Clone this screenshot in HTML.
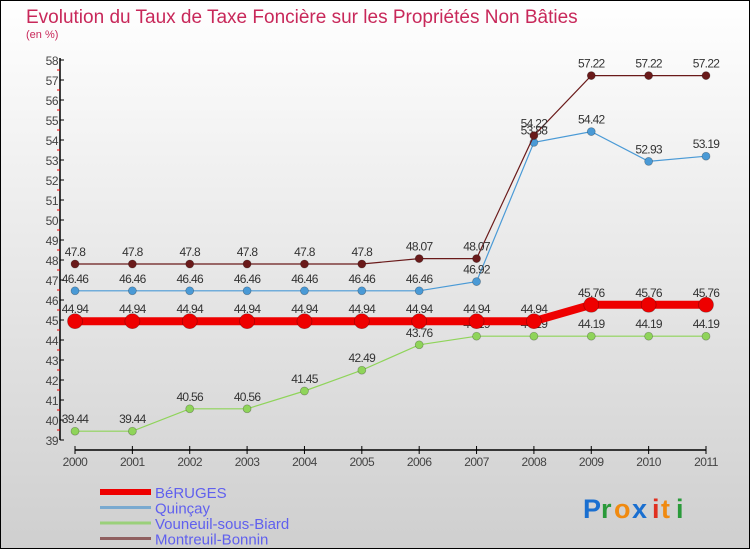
<!DOCTYPE html>
<html><head><meta charset="utf-8"><style>
html,body{margin:0;padding:0}
body{width:750px;height:550px;overflow:hidden;font-family:"Liberation Sans",sans-serif}
</style></head><body>
<svg width="750" height="550" viewBox="0 0 750 550" xmlns="http://www.w3.org/2000/svg">
<defs>
<linearGradient id="bg" x1="0" y1="0" x2="0" y2="1">
<stop offset="0" stop-color="#ffffff"/><stop offset="1" stop-color="#cfcfcf"/>
</linearGradient>
</defs>
<rect x="0.5" y="0.5" width="749" height="548" fill="url(#bg)" stroke="#000"/>
<text x="26" y="23" font-size="19" fill="#c8285a">Evolution du Taux de Taxe Foncière sur les Propriétés Non Bâties</text>
<text x="26" y="38" font-size="11" fill="#c8285a">(en %)</text>
<g id="axes"></g>
<g id="series"></g>
<g id="legend"></g>
<g font-size="27" font-weight="bold">
<text x="583" y="518" fill="#1a6fd0">P</text><text x="601" y="518" fill="#2a9a3a">r</text><text x="614" y="518" fill="#f08a10">o</text><text x="632" y="518" fill="#1a6fd0">x</text><text x="652" y="518" fill="#e03020">i</text><text x="661" y="518" fill="#f08a10">t</text><text x="676" y="518" fill="#2a9a3a">i</text>
</g>
</svg>
<script>
const years=["2000","2001","2002","2003","2004","2005","2006","2007","2008","2009","2010","2011"];
const beruges=[44.94,44.94,44.94,44.94,44.94,44.94,44.94,44.94,44.94,45.76,45.76,45.76];
const quincay=[46.46,46.46,46.46,46.46,46.46,46.46,46.46,46.92,53.88,54.42,52.93,53.19];
const vouneuil=[39.44,39.44,40.56,40.56,41.45,42.49,43.76,44.19,44.19,44.19,44.19,44.19];
const montreuil=[47.8,47.8,47.8,47.8,47.8,47.8,48.07,48.07,54.22,57.22,57.22,57.22];
const yTicks=[39,40,41,42,43,44,45,46,47,48,49,50,51,52,53,54,55,56,57,58];
const NS="http://www.w3.org/2000/svg";
const yMin=39,yMax=58,yTop=60,yBot=440,x0=75,x1=706;
function X(i){return x0+(x1-x0)*i/(years.length-1);}
function Y(v){return yBot-(v-yMin)/(yMax-yMin)*(yBot-yTop);}
function mk(tag,attrs,parent){const e=document.createElementNS(NS,tag);for(const k in attrs)e.setAttribute(k,attrs[k]);parent.appendChild(e);return e;}
const axes=document.getElementById('axes');
const ya=mk('line',{x1:60,y1:yTop-2,x2:60,y2:yBot,stroke:'#000','stroke-width':1.5},axes);


yTicks.forEach(v=>{
  const y=Y(v);
  mk('line',{x1:60,y1:y,x2:64,y2:y,stroke:'#000'},axes);
  if(v<yMax) mk('line',{x1:57,y1:Y(v+0.5),x2:60,y2:Y(v+0.5),stroke:'#e00'},axes);
  const t=mk('text',{x:58,y:y+5,'font-size':12,'text-anchor':'end',fill:'#444','letter-spacing':'-0.5'},axes);
  t.textContent=v;
  
  
});
const xa=mk('line',{x1:x0,y1:450,x2:x1,y2:450,stroke:'#000','stroke-width':1.5},axes);


years.forEach((yr,i)=>{
  mk('line',{x1:X(i),y1:446,x2:X(i),y2:454,stroke:'#000'},axes);
  const t=mk('text',{x:X(i),y:466,'font-size':12,'text-anchor':'middle',fill:'#444','letter-spacing':'-0.5'},axes);
  t.textContent=yr;
  
  
});
const ser=document.getElementById('series');
function draw(vals,color,w,r,name){
  const g=mk('g',{},ser);
  
  
  const p=mk('polyline',{points:vals.map((v,i)=>X(i)+','+Y(v)).join(' '),fill:'none',stroke:color,'stroke-width':w},g);
  
  
  vals.forEach((v,i)=>{
    const c=mk('circle',{cx:X(i),cy:Y(v),r:r,fill:color,stroke:'rgba(0,0,0,0.3)','stroke-width':0.7},g);
    
    
    const t=mk('text',{x:X(i),y:Y(v)-8,'font-size':12,'text-anchor':'middle',fill:'#333','letter-spacing':'-0.7'},g);
    t.textContent=String(v);
    
    
  });
}
draw(vouneuil,'#8fd45a',1.2,4,'vouneuil');
draw(quincay,'#4a9ad6',1.2,4,'quincay');
draw(montreuil,'#6a1a1a',1.2,4,'montreuil');
draw(beruges,'#ee0000',8,7.5,'beruges');
const leg=document.getElementById('legend');
const items=[['BéRUGES','#ee0000',6],['Quinçay','#7aaad0',3],['Vouneuil-sous-Biard','#9ad07a',3],['Montreuil-Bonnin','#906060',3]];
items.forEach((it,k)=>{
  const y=492+k*15.5;
  const l=mk('line',{x1:100,y1:y,x2:151,y2:y,stroke:it[1],'stroke-width':it[2]},leg);
  
  
  const t=mk('text',{x:155,y:y+6,'font-size':15,fill:'#6060ee'},leg);
  t.textContent=it[0];
  
  
});
</script>
</body></html>
